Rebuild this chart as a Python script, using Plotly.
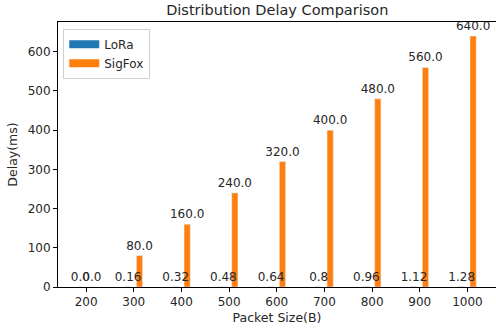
import plotly.graph_objects as go

packet_sizes = ["200", "300", "400", "500", "600", "700", "800", "900", "1000"]
lora_delay = [0.0, 0.16, 0.32, 0.48, 0.64, 0.8, 0.96, 1.12, 1.28]
sigfox_delay = [0.0, 80.0, 160.0, 240.0, 320.0, 400.0, 480.0, 560.0, 640.0]
lora_labels = ["0.0", "0.16", "0.32", "0.48", "0.64", "0.8", "0.96", "1.12", "1.28"]
sigfox_labels = ["0.0", "80.0", "160.0", "240.0", "320.0", "400.0", "480.0", "560.0", "640.0"]

BLUE = "#1f77b4"
ORANGE = "#ff7f0e"
FONT = "DejaVu Sans"
TXT = "#262626"
BAR_W = 0.13
SHIFT = 0.12

idx = list(range(len(packet_sizes)))
lora_x = [i - SHIFT for i in idx]
sigfox_x = [i + SHIFT for i in idx]

fig = go.Figure()
fig.add_trace(go.Bar(
    x=lora_x, y=lora_delay, name="LoRa", marker_color=BLUE, width=BAR_W,
    showlegend=False, hoverinfo="y",
))
fig.add_trace(go.Bar(
    x=sigfox_x, y=sigfox_delay, name="SigFox", marker_color=ORANGE, width=BAR_W,
    text=sigfox_labels, textposition="outside", constraintext="none",
    cliponaxis=False, textfont=dict(family=FONT, size=12, color=TXT),
    showlegend=False, hoverinfo="y",
))
# LoRa value labels, drawn after the SigFox bars so they sit on top of them
fig.add_trace(go.Bar(
    x=lora_x, y=lora_delay, width=BAR_W, marker_color="rgba(0,0,0,0)",
    text=lora_labels, textposition="outside", constraintext="none",
    cliponaxis=False, textfont=dict(family=FONT, size=12, color=TXT),
    showlegend=False, hoverinfo="skip",
))
# legend entries drawn as thick line swatches to mimic matplotlib patches
fig.add_trace(go.Scatter(x=[None], y=[None], mode="lines", name="LoRa",
                         line=dict(color=BLUE, width=8)))
fig.add_trace(go.Scatter(x=[None], y=[None], mode="lines", name="SigFox",
                         line=dict(color=ORANGE, width=8)))

fig.update_layout(
    width=496, height=331,
    margin=dict(l=58, r=0, t=22, b=44),
    paper_bgcolor="white", plot_bgcolor="white",
    font=dict(family=FONT, size=12, color=TXT),
    barmode="overlay",
    title=dict(text="Distribution Delay Comparison", x=0.559, xanchor="center",
               y=0.97, yanchor="middle", font=dict(size=14.5, color=TXT)),
    legend=dict(x=0.012, y=0.975, xanchor="left", yanchor="top",
                bgcolor="white", bordercolor="#d0d0d0", borderwidth=1,
                font=dict(size=12, color=TXT), itemwidth=30,
                tracegroupgap=0),
    xaxis=dict(
        range=[-0.59, 8.6], tickvals=idx, ticktext=packet_sizes,
        showline=True, linecolor="black", linewidth=1, mirror=True,
        ticks="outside", ticklen=4, tickcolor="black", showgrid=False,
        zeroline=False, tickfont=dict(size=12),
        title=dict(text="Packet Size(B)", standoff=4, font=dict(size=12.5)),
    ),
    yaxis=dict(
        range=[0, 676], tickvals=[0, 100, 200, 300, 400, 500, 600],
        showline=True, linecolor="black", linewidth=1,
        ticks="outside", ticklen=4, tickcolor="black", showgrid=False,
        zeroline=False, tickfont=dict(size=12),
        title=dict(text="Delay(ms)", standoff=7, font=dict(size=12.5)),
    ),
)

fig.write_html("out.html",
               config={"displayModeBar": False},
               post_script="document.body.style.margin='0';document.body.style.overflow='hidden';")
